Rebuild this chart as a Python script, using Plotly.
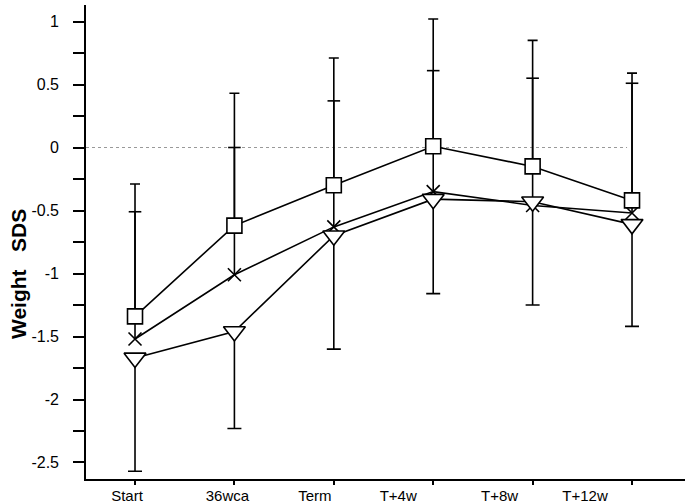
import plotly.graph_objects as go

# ---- data ----
time_labels = ["Start", "36wca", "Term", "T+4w", "T+8w", "T+12w"]
square_mean = [-1.34, -0.62, -0.30, 0.01, -0.15, -0.42]
square_sd_up = [1.05, 1.05, 1.01, 1.01, 1.00, 1.01]
cross_mean = [-1.52, -1.01, -0.63, -0.35, -0.46, -0.52]
cross_sd_up = [1.01, 1.01, 1.00, 0.96, 1.01, 1.03]
tri_mean = [-1.67, -1.46, -0.70, -0.41, -0.43, -0.61]
tri_sd_down = [0.90, 0.77, 0.90, 0.75, 0.82, 0.81]
y_tick_vals = [1, 0.5, 0, -0.5, -1, -1.5, -2, -2.5]
y_tick_text = ["1", "0.5", "0", "-0.5", "-1", "-1.5", "-2", "-2.5"]

# ---- layout constants ----
FONT = "Liberation Sans, Arial, sans-serif"
PX_PER_STEP = 99.4                              # px between time points
label_offsets_px = [-8, -7, -19, -35, -33, -47]  # labels sit left of ticks in the original
X_RANGE = [-0.493, 5.533]
Y_RANGE = [-2.631, 1.131]

xs = list(range(len(time_labels)))
label_pos = [i + off / PX_PER_STEP for i, off in zip(xs, label_offsets_px)]

fig = go.Figure()

# crosses: line + markers
fig.add_trace(go.Scatter(
    x=xs, y=cross_mean, mode="lines+markers",
    line=dict(color="black", width=1.6),
    marker=dict(symbol="x-thin", size=13, line=dict(color="black", width=1.6)),
    showlegend=False, hoverinfo="skip"))

# crosses: upward SD bars (drawn as segments so no cap sits on the marker)
bx, by, cx, cy = [], [], [], []
for x, m, s in zip(xs, cross_mean, cross_sd_up):
    bx += [x, x, None]
    by += [m, m + s, None]
    cx.append(x)
    cy.append(m + s)
fig.add_trace(go.Scatter(x=bx, y=by, mode="lines", line=dict(color="black", width=1.6),
                         showlegend=False, hoverinfo="skip"))
fig.add_trace(go.Scatter(x=cx, y=cy, mode="markers",
                         marker=dict(symbol="line-ew", size=9, line=dict(color="black", width=1.6)),
                         showlegend=False, hoverinfo="skip"))

# triangles (down SD bars)
fig.add_trace(go.Scatter(
    x=xs, y=tri_mean, mode="lines+markers",
    line=dict(color="black", width=1.6),
    marker=dict(symbol="triangle-down", size=19, color="white",
                line=dict(color="black", width=1.6)),
    error_y=dict(type="data", symmetric=False, array=[0] * len(xs), arrayminus=tri_sd_down,
                 color="black", thickness=1.6, width=7),
    showlegend=False, hoverinfo="skip"))

# squares (up SD bars)
fig.add_trace(go.Scatter(
    x=xs, y=square_mean, mode="lines+markers",
    line=dict(color="black", width=1.6),
    marker=dict(symbol="square", size=15, color="white",
                line=dict(color="black", width=1.6)),
    error_y=dict(type="data", symmetric=False, array=square_sd_up, arrayminus=[0] * len(xs),
                 color="black", thickness=1.6, width=5),
    showlegend=False, hoverinfo="skip"))

# dotted zero reference line
fig.add_shape(type="line", xref="x", yref="y", x0=X_RANGE[0], x1=4.95, y0=0, y1=0,
              line=dict(color="#999999", width=1, dash="dot"), layer="below")

fig.update_layout(
    width=685, height=504,
    margin=dict(l=86, r=0, t=5, b=25),
    paper_bgcolor="white", plot_bgcolor="white",
    font=dict(family=FONT, size=15, color="black"),
    xaxis=dict(range=X_RANGE, tickmode="array", tickvals=xs, showticklabels=False,
               ticks="outside", ticklen=4, tickwidth=1.5, tickcolor="black",
               showline=True, linecolor="black", linewidth=1.6,
               showgrid=False, zeroline=False),
    xaxis2=dict(range=X_RANGE, overlaying="x", anchor="y", side="bottom",
                tickmode="array", tickvals=label_pos, ticktext=time_labels,
                ticks="", showline=False, showgrid=False, zeroline=False,
                ticklabelstandoff=6, tickfont=dict(family=FONT, size=15, color="black")),
    yaxis=dict(range=Y_RANGE, tickmode="array", tickvals=y_tick_vals, ticktext=y_tick_text,
               ticks="outside", ticklen=11, tickwidth=1.5, tickcolor="black",
               minor=dict(dtick=0.25, tick0=0, ticks="outside", ticklen=11,
                          tickwidth=1.5, tickcolor="black", showgrid=False),
               showline=True, linecolor="black", linewidth=1.6,
               showgrid=False, zeroline=False, ticklabelstandoff=11,
               tickfont=dict(family=FONT, size=16, color="black")),
    annotations=[dict(text="<b>Weight   SDS</b>", textangle=-90, xref="paper", yref="paper",
                      x=(18 - 86) / 599, y=(479 - 274) / 474, xanchor="center", yanchor="middle",
                      showarrow=False,
                      font=dict(family=FONT, size=21, color="black"))],
)

# anchor the overlay label axis to an (empty) trace so it renders
fig.add_trace(go.Scatter(x=[None], y=[None], xaxis="x2", showlegend=False, hoverinfo="skip"))

fig.write_html("out.html", config={"displayModeBar": False},
               post_script="document.body.style.margin='0';")
